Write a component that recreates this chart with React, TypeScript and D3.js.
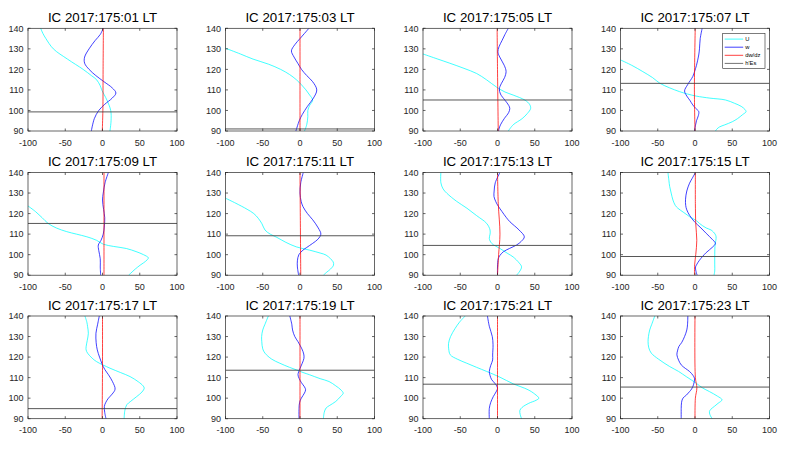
import React from "react";
import * as d3 from "d3";

type P = [number, number]; // [altitude km, value]

const TITLES = [
  "IC 2017:175:01 LT", "IC 2017:175:03 LT", "IC 2017:175:05 LT", "IC 2017:175:07 LT",
  "IC 2017:175:09 LT", "IC 2017:175:11 LT", "IC 2017:175:13 LT", "IC 2017:175:15 LT",
  "IC 2017:175:17 LT", "IC 2017:175:19 LT", "IC 2017:175:21 LT", "IC 2017:175:23 LT",
];
const X_TICKS = [-100, -50, 0, 50, 100];
const Y_TICKS = [90, 100, 110, 120, 130, 140];
const LEGEND_LABELS = ["U", "w", "dw/dz", "h'Es"];

const HES = [99.3, 91, 105.1, 113.2, 115.2, 109.2, 104.5, 99.1, 94.9, 113.6, 106.8, 105.4];

const U01: P[] = [[140,-83],[137.5,-80],[135,-76],[130,-66],[125,-47],[120,-26],[117,-15],[115,-8],[112,-3],[110,-1],[105,6],[100,11],[95,11.5],[90,10]];
const W01: P[] = [[140,1],[137,-3],[134,-10],[130,-18],[126,-24],[123,-24],[120,-18],[117,-9],[114,2],[111,13],[108.5,18],[106,13],[103,3],[100,-5],[96,-11],[90,-15]];
const D01: P[] = [[140,1.2],[120,0.8],[100,0.5],[90,-0.3]];

const U03: P[] = [[130.3,-100],[127.5,-80],[125,-63],[122.5,-42],[120,-26],[117.5,-14],[115,-5],[112.5,2],[110,8],[107.5,13],[105,17],[102.5,13],[100,10.5],[97,10.5],[93,9],[90,6]];
const W03: P[] = [[140,12],[137.5,6],[135,0],[132,-7],[129,-11.5],[126,-8],[123,-3],[120,2],[117,9],[114,17],[110,22.5],[106,18],[102,10],[98,3],[95,-1],[90,-5.5]];
const D03: P[] = [[140,0],[115,0],[90,0]];

const U05: P[] = [[127.5,-100],[125,-80],[123,-64],[120.5,-45],[118,-28],[115,-15],[111.3,-1],[109,10],[107.5,21],[105,37],[103,43],[101,44.5],[98.5,40],[96,33],[93,21],[90,14.5]];
const W05: P[] = [[140,14.5],[137,10],[134,6],[131,2],[128.5,0.5],[126,3],[122,9],[119,11.5],[116,9.5],[113,5],[110.5,2.5],[108,4],[105,10],[102.5,15],[101,16.5],[99,15],[96,9],[93,4],[91,2],[90,1.5]];
const D05: P[] = [[140,-0.5],[120,0],[90,1]];

const U07: P[] = [[124.6,-100],[122,-85],[118.9,-70],[116,-57],[113.2,-47],[111,-34],[109.2,-21],[108,-10],[107,1.6],[106,20],[105.1,41],[103.5,53],[102,62],[100.5,67],[99.4,68.5],[98,64],[96,57],[94.5,50],[93,40],[92,33],[91,29.5],[90,27.5]];
const W07: P[] = [[140,9.6],[135,7],[130,6],[127,5],[122,2],[119,-0.5],[116.5,-3],[112.5,-10],[109.5,-14],[107,-11],[105,-7],[102.7,-3],[101,1],[99.5,5],[97.5,4.5],[95,2],[92.5,0.5],[90,-0.7]];
const D07: P[] = [[140,0.3],[110,-0.8],[90,0]];

const U09: P[] = [[123.7,-100],[121,-90],[118,-81],[115.2,-73],[113,-62],[111.2,-48],[110,-35],[108.7,-21],[107,-8],[105.1,1],[104,15],[103,32],[101.5,45],[100,55],[98.5,61.5],[97.5,60],[96,55],[94.9,50.6],[93,44],[91,38],[90,35]];
const W09: P[] = [[140,7.9],[135,3.4],[130,1],[126.6,0],[122,1.5],[118,3],[114,2.5],[110,1],[107,-2],[104.7,-5.6],[102,-5],[98,-3],[94,-3],[90,-2.5]];
const D09: P[] = [[140,2],[115,2],[90,2]];

const U11: P[] = [[127.5,-100],[125,-86],[122.1,-71],[120,-62],[117.7,-56],[115,-51],[112,-47],[110,-40],[108.4,-31],[106,-19],[103.8,-5],[102.2,13],[100.8,27],[99.8,35],[98,41],[96.5,44.5],[94.9,45],[93,41],[91.5,36],[90,31.4]];
const W11: P[] = [[140,4.4],[135,1],[130,0],[126,1.5],[123.4,4],[120,10],[117,17],[113,24.5],[110,28],[107.5,24],[105.5,17],[103.5,9],[102.2,4],[100,-1.5],[97,-3.5],[94,-3.5],[90,-1.8]];
const D11: P[] = [[140,0],[115,0.5],[90,1]];

const U13: P[] = [[140,-76],[135,-76],[132,-73],[129.9,-68],[126,-55],[122.6,-41],[119,-28],[115.2,-14.5],[112,-10],[110,-10],[107.9,-11],[105.5,-7.8],[103,3.3],[100.5,14],[98.9,21],[96,29],[94.1,32.3],[92,30],[90,25.6]];
const W13: P[] = [[140,3.3],[135,-3],[131,-4.5],[128.3,-4.7],[126,-2.5],[124.2,0],[121,6],[118,12],[116,16.7],[112,29],[108.7,36],[106.5,32],[104.7,25.6],[103,16],[101.4,7.8],[99.5,3],[98,1],[94,0],[90,0]];
const D13: P[] = [[140,0],[125,1],[110,3.3],[100,1.5],[90,0]];

const U15: P[] = [[140,-36.3],[136,-35],[133.2,-34],[130,-32],[126.6,-29.6],[124,-26.5],[122.6,-23],[120.5,-15],[118.5,-7.3],[116.5,2],[115.2,6],[113,15],[112,21.6],[110,27],[108.7,28.3],[107,28],[105,27],[100,26.5],[95,26.5],[92,26.5],[90,25.5]];
const W15: P[] = [[140,0.7],[137,-4],[134.8,-7.3],[131,-11],[127,-12.7],[124,-12.5],[121.8,-11],[119,-7],[116,-0.7],[113,8],[110.4,15],[107.5,23],[105.5,27.4],[103.5,23],[101,15],[97.3,6],[95,2],[94,0.7],[92,1.2],[90,2.9]];
const D15: P[] = [[140,0.5],[125,0.5],[115,1],[107,2.4],[100,1],[95,-0.5],[90,-0.7]];

const U17: P[] = [[140,-23.6],[137,-21],[134.8,-20],[131.6,-19],[128,-20.5],[125,-22],[123.5,-22],[121.9,-20],[119.5,-14],[117.8,-8],[114.6,10],[112.5,24],[110.5,37],[108,48],[106,54.5],[104.9,56],[103,53],[100.8,46],[98.5,38],[96.8,32.6],[94,30],[90,29]];
const W17: P[] = [[140,-4.3],[136,-6.5],[131.6,-8.8],[127,-8.5],[123.5,-7],[120,-4],[117,-1],[114,3],[111.4,8],[108,13.5],[104.4,16.9],[102,13],[100,8],[98,4.5],[96,2.5],[93,3],[90,4.7]];
const D17: P[] = [[140,0],[115,0],[90,-0.5]];

const U19: P[] = [[140,-42.5],[136,-47],[133.2,-50],[130,-51.5],[127.5,-51.3],[124,-50],[121.9,-47],[119,-38],[117,-27],[115,-14],[113.8,-5],[112.5,4],[111.4,12.8],[109.5,27],[108.1,39],[106,48],[104,55],[102.4,58],[101,55],[98.4,48],[96.5,40],[95.2,35],[93,32.5],[90,31.4]];
const W19: P[] = [[140,-13.7],[136,-11],[133.2,-10],[130,-7],[127.5,-2.7],[124,2.5],[121.5,5],[119.4,5.3],[117,3],[114.5,0],[111.4,-2.7],[109.5,-1],[107.5,2],[105.5,6],[104.1,7.5],[102.5,6],[100,1.8],[98,-0.5],[95,-1.3],[90,-1.3]];
const D19: P[] = [[140,0],[115,0],[90,0]];

const U21: P[] = [[140,-43.4],[137,-51],[134,-56.8],[130,-63],[126.7,-65.7],[124,-65.5],[121.1,-63.4],[119,-54],[117,-41.2],[115,-28],[113,-14.5],[110.2,3.3],[107,21],[104.1,41],[102,50],[100,55.5],[99,52],[97.5,42],[95.5,33],[94,30],[92,30.5],[90,32.3]];
const W21: P[] = [[140,-13.5],[135,-11],[130,-7],[126,-6],[121,-6.5],[118.6,-6.5],[116,-9],[113,-11],[111,-10],[109,-7.8],[107,-3],[104.9,0],[103,-2],[100.8,-5.6],[98,-9],[95,-11],[90,-11]];
const D21: P[] = [[140,0],[115,0],[90,0]];

const U23: P[] = [[140,-54],[136,-58],[133.2,-60.8],[130,-62.5],[127.5,-63],[124.5,-62],[121.9,-58.6],[119,-49],[115.4,-34],[113,-22],[110.5,-11.8],[107.3,1.6],[105,10],[103.2,19.4],[101,30],[99.2,36.3],[97.5,31],[96,26],[94.5,21],[93.5,19.4],[92,20],[90,23]];
const W23: P[] = [[140,-9.6],[136,-10],[133.2,-11],[130,-14],[127,-18],[125.2,-21.6],[123,-23.5],[121.1,-24.3],[118.5,-22],[116.2,-18.5],[114.5,-13],[113,-7.3],[111,-2.5],[109.7,-0.7],[108,-1],[106.5,-2],[104.5,-4.5],[103.2,-7.3],[101.5,-11.5],[100,-16.2],[98,-18],[95,-18.5],[90,-18.5]];
const D23: P[] = [[140,0],[110,0.5],[105,2.5],[100,0.5],[90,0]];

const U_SERIES = [U01, U03, U05, U07, U09, U11, U13, U15, U17, U19, U21, U23];
const W_SERIES = [W01, W03, W05, W07, W09, W11, W13, W15, W17, W19, W21, W23];
const D_SERIES = [D01, D03, D05, D07, D09, D11, D13, D15, D17, D19, D21, D23];

const COL_LEFT = [28, 225.5, 423, 620.5];
const ROW_TOP = [28.3, 172.5, 316];
const PW = 149;
const PH = 102.7;
const AX = "#262626";
const COLORS = { U: "#00ffff", w: "#0000ff", d: "#ff0000", h: "#444444" };
const LW = 0.75;

function Panel({ i }: { i: number }) {
  const left = COL_LEFT[i % 4];
  const top = ROW_TOP[Math.floor(i / 4)];
  const x = d3.scaleLinear().domain([-100, 100]).range([0, PW]);
  const y = d3.scaleLinear().domain([90, 140]).range([PH, 0]);
  const line = d3
    .line<P>()
    .x((d) => x(d[1]))
    .y((d) => y(d[0]))
    .curve(d3.curveCatmullRom.alpha(0.5));
  const clipId = `clip${i}`;
  const tl = 2.5;
  return (
    <g transform={`translate(${left},${top})`}>
      <text x={PW / 2} y={-6.5} textAnchor="middle" fontSize={13.3} fill="#000">
        {TITLES[i]}
      </text>
      <defs>
        <clipPath id={clipId}>
          <rect x={0} y={0} width={PW} height={PH} />
        </clipPath>
      </defs>
      <g clipPath={`url(#${clipId})`} fill="none">
        <path d={line(U_SERIES[i]) || ""} stroke={COLORS.U} strokeWidth={LW} />
        <path d={line(W_SERIES[i]) || ""} stroke={COLORS.w} strokeWidth={LW} />
        <path d={line(D_SERIES[i]) || ""} stroke={COLORS.d} strokeWidth={LW} />
        <line x1={0} x2={PW} y1={y(HES[i])} y2={y(HES[i])} stroke={COLORS.h} strokeWidth={0.9} />
      </g>
      <rect x={0} y={0} width={PW} height={PH} fill="none" stroke={AX} strokeWidth={0.7} />
      {X_TICKS.map((t) => (
        <g key={"x" + t}>
          <line x1={x(t)} x2={x(t)} y1={PH} y2={PH - tl} stroke={AX} strokeWidth={0.7} />
          <line x1={x(t)} x2={x(t)} y1={0} y2={tl} stroke={AX} strokeWidth={0.7} />
          <text x={x(t)} y={PH + 14.7} textAnchor="middle" fontSize={9} fill={AX}>
            {t}
          </text>
        </g>
      ))}
      {Y_TICKS.map((t) => (
        <g key={"y" + t}>
          <line x1={0} x2={tl} y1={y(t)} y2={y(t)} stroke={AX} strokeWidth={0.7} />
          <line x1={PW} x2={PW - tl} y1={y(t)} y2={y(t)} stroke={AX} strokeWidth={0.7} />
          <text x={-4.5} y={y(t) + 3.2} textAnchor="end" fontSize={9} fill={AX}>
            {t}
          </text>
        </g>
      ))}
      {i === 3 && <Legend />}
    </g>
  );
}

function Legend() {
  const lx = 102.2;
  const ly = 5;
  const w = 42.3;
  const h = 35;
  const cols = [COLORS.U, COLORS.w, COLORS.d, COLORS.h];
  return (
    <g transform={`translate(${lx},${ly})`}>
      <rect x={0} y={0} width={w} height={h} fill="#fff" stroke={AX} strokeWidth={0.6} />
      {LEGEND_LABELS.map((lab, k) => (
        <g key={lab} transform={`translate(0,${5.8 + k * 8.1})`}>
          <line x1={2} x2={20.5} y1={0} y2={0} stroke={cols[k]} strokeWidth={LW} />
          <text x={22.5} y={2} fontSize={5.8} fill="#000">
            {lab}
          </text>
        </g>
      ))}
    </g>
  );
}

export default function App() {
  return (
    <svg
      width={802}
      height={449}
      style={{ position: "absolute", left: 0, top: 0, background: "#fff" }}
      fontFamily="'Liberation Sans', Arial, Helvetica, sans-serif"
    >
      <rect width={802} height={449} fill="#fff" />
      {TITLES.map((_, i) => (
        <Panel key={i} i={i} />
      ))}
    </svg>
  );
}
